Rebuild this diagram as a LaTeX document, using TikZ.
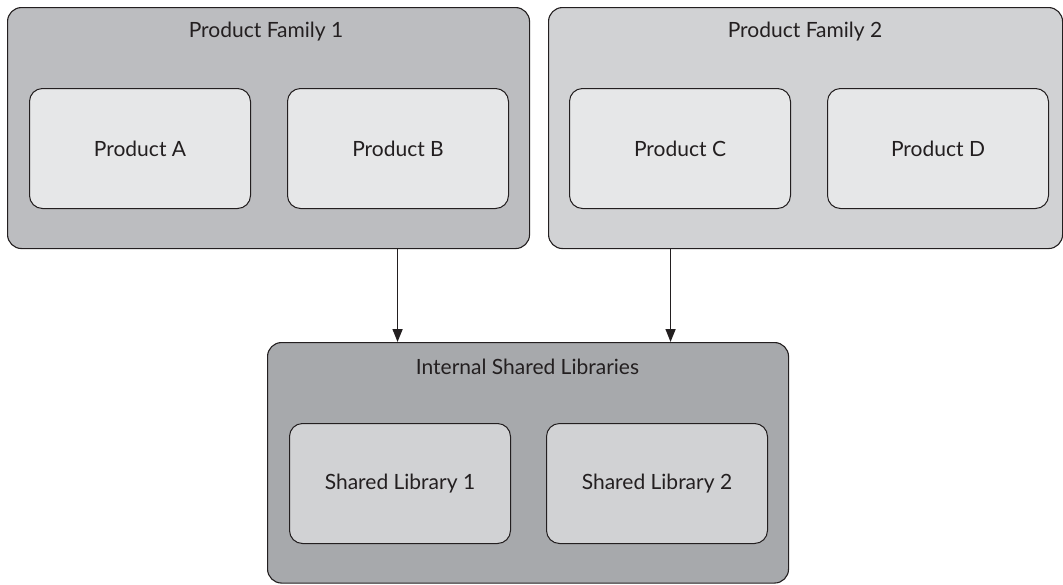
\documentclass[tikz,border=0pt]{standalone}
\usepackage{fontspec}
\setmainfont{Lato}
\usetikzlibrary{arrows.meta}
\definecolor{famA}{HTML}{BCBDC0}
\definecolor{famB}{HTML}{D1D2D4}
\definecolor{prodfill}{HTML}{E6E7E8}
\definecolor{libouter}{HTML}{A7A9AC}
\definecolor{inkline}{HTML}{231F20}
\definecolor{inktext}{HTML}{231F20}
\tikzset{
  outerbox/.style={draw=inkline, line width=1.1pt, rounded corners=14pt, inner sep=0pt, anchor=north west},
  innerbox/.style={draw=inkline, line width=1pt, rounded corners=13pt, minimum width=221pt, minimum height=120pt, anchor=north west, inner sep=0pt, font=\fontsize{21}{25}\selectfont, text=inktext},
  titletext/.style={anchor=base, font=\fontsize{21}{25}\selectfont, text=inktext, inner sep=0pt},
  arr/.style={draw=inkline, line width=1.5pt, -{Triangle[width=10pt,length=13pt]}}
}
\begin{document}
\begin{tikzpicture}[x=1pt,y=-1pt]
\useasboundingbox (0,0) rectangle (1063,584);
% outer boxes
\node[outerbox, fill=famA, minimum width=522pt, minimum height=241pt] (fam1) at (7,7) {};
\node[outerbox, fill=famB, minimum width=514pt, minimum height=241pt] (fam2) at (548,7) {};
\node[outerbox, fill=libouter, minimum width=521pt, minimum height=240.5pt] (isl) at (267,342) {};
% titles
\node[titletext] (t1) at (266,37) {Product Family 1};
\node[titletext] (t2) at (805,37) {Product Family 2};
\node[titletext] (t3) at (527.5,374) {Internal Shared Libraries};
% inner boxes
\node[innerbox, fill=prodfill] (pa) at (29,88) {Product A};
\node[innerbox, fill=prodfill] (pb) at (287,88) {Product B};
\node[innerbox, fill=prodfill] (pc) at (569,88) {Product C};
\node[innerbox, fill=prodfill] (pd) at (827,88) {Product D};
\node[innerbox, fill=famB] (sl1) at (289,423) {Shared Library 1};
\node[innerbox, fill=famB] (sl2) at (546,423) {Shared Library 2};
% arrows
\draw[arr] ([xshift=129pt]fam1.south) -- ([xshift=129pt]fam1.south |- isl.north);
\draw[arr] ([xshift=-135pt]fam2.south) -- ([xshift=-135pt]fam2.south |- isl.north);
\end{tikzpicture}
\end{document}
